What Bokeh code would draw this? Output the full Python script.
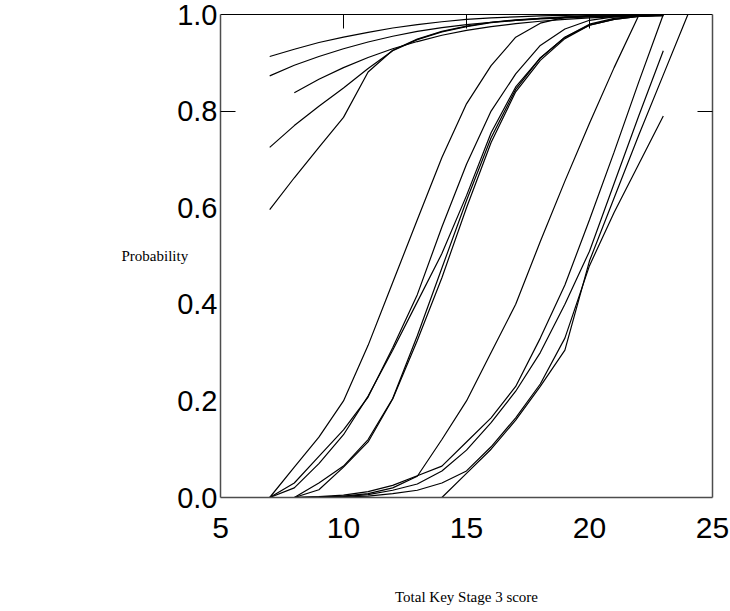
from bokeh.plotting import figure
from bokeh.models import Range1d, LinearAxis, FixedTicker, PrintfTickFormatter
from bokeh.embed import file_html
from bokeh.resources import INLINE

# ---- data ----
x_from7 = [7, 8, 9, 10, 11, 12, 13, 14, 15, 16, 17, 18, 19, 20, 21, 22, 23]
x_from8 = [8, 9, 10, 11, 12, 13, 14, 15, 16, 17, 18, 19, 20, 21, 22, 23]
x_from14 = [14, 15, 16, 17, 18, 19, 20, 21, 22, 23, 24]

a1 = [0.913, 0.928, 0.942, 0.953, 0.963, 0.972, 0.979, 0.985, 0.990, 0.993, 0.995, 0.997, 0.998, 0.999, 0.999, 1.0, 1.0]
a2 = [0.873, 0.895, 0.913, 0.929, 0.943, 0.955, 0.965, 0.973, 0.979, 0.984, 0.988, 0.991, 0.993, 0.995, 0.996, 0.997, 0.998]
a3 = [0.838, 0.866, 0.890, 0.911, 0.929, 0.944, 0.957, 0.967, 0.975, 0.981, 0.986, 0.990, 0.993, 0.995, 0.996, 0.997]
a4 = [0.725, 0.770, 0.810, 0.848, 0.888, 0.925, 0.948, 0.964, 0.975, 0.983, 0.988, 0.992, 0.994, 0.996, 0.997, 0.998, 0.999]
a5 = [0.596, 0.662, 0.725, 0.787, 0.881, 0.926, 0.949, 0.965, 0.976, 0.984, 0.989, 0.992, 0.995, 0.996, 0.997, 0.998, 0.999]

b1 = [0.0, 0.063, 0.125, 0.200, 0.315, 0.445, 0.575, 0.704, 0.815, 0.894, 0.953, 0.982, 0.994, 0.998, 0.999, 1.0, 1.0]
b2 = [0.0, 0.030, 0.085, 0.140, 0.208, 0.310, 0.420, 0.560, 0.690, 0.800, 0.877, 0.936, 0.970, 0.988, 0.995, 0.998, 1.0]
b3 = [0.0, 0.020, 0.070, 0.130, 0.210, 0.305, 0.405, 0.505, 0.625, 0.755, 0.850, 0.910, 0.953, 0.978, 0.990, 0.996, 0.999]
b4 = [0.0, 0.030, 0.065, 0.120, 0.205, 0.335, 0.475, 0.615, 0.745, 0.845, 0.910, 0.953, 0.980, 0.992, 0.997, 1.0]
b5 = [0.0, 0.016, 0.063, 0.115, 0.204, 0.325, 0.455, 0.600, 0.735, 0.840, 0.905, 0.950, 0.978, 0.990, 0.996, 0.999]

c1 = [0.0, 0.001, 0.003, 0.008, 0.020, 0.044, 0.120, 0.200, 0.300, 0.400, 0.530, 0.655, 0.775, 0.890, 0.998, 1.0]
c2 = [0.0, 0.002, 0.005, 0.012, 0.025, 0.045, 0.065, 0.115, 0.165, 0.230, 0.330, 0.440, 0.575, 0.715, 0.860, 1.0]
c3 = [0.0, 0.001, 0.002, 0.006, 0.015, 0.028, 0.055, 0.098, 0.155, 0.220, 0.300, 0.400, 0.510, 0.650, 0.790, 0.925]
c4 = [0.0, 0.050, 0.100, 0.160, 0.230, 0.305, 0.490, 0.620, 0.750, 0.875, 1.0]
c5 = [0.0, 0.0, 0.001, 0.003, 0.008, 0.015, 0.030, 0.055, 0.105, 0.165, 0.235, 0.330, 0.480, 0.590, 0.690, 0.790]

x_ticks = [5, 10, 15, 20, 25]
y_ticks = [0.0, 0.2, 0.4, 0.6, 0.8, 1.0]
top_ticks = [10, 15, 20]
side_ticks = [0.8]

curves = [
    (x_from7, a1), (x_from7, a2), (x_from8, a3), (x_from7, a4), (x_from7, a5),
    (x_from7, b1), (x_from7, b2), (x_from7, b3), (x_from8, b4), (x_from8, b5),
    (x_from8, c1), (x_from8, c2), (x_from8, c3), (x_from14, c4), (x_from8, c5),
]

p = figure(width=730, height=611, output_backend="svg", toolbar_location=None,
           x_range=Range1d(5, 25), y_range=Range1d(0, 1),
           x_axis_location=None, y_axis_location=None,
           min_border_left=220, min_border_right=18, min_border_top=14,
           min_border_bottom=114)
p.xgrid.visible = False
p.ygrid.visible = False
p.outline_line_color = None
p.background_fill_color = "white"

for xs, ys in curves:
    p.line(xs, ys, line_color="black", line_width=1.2)

TICK_FONT = "Liberation Sans"
LABEL_FONT = "Liberation Serif"
FRAME = "#4d4d4d"

left = LinearAxis(ticker=FixedTicker(ticks=y_ticks, minor_ticks=side_ticks),
                  formatter=PrintfTickFormatter(format="%.1f"),
                  axis_label="Probability", axis_label_orientation="horizontal",
                  axis_label_standoff=-14, axis_label_text_baseline="top",
                  axis_label_text_font=LABEL_FONT, axis_label_text_font_style="normal",
                  axis_label_text_font_size="15px", axis_label_text_color="black",
                  major_label_text_font=TICK_FONT, major_label_text_font_size="29px",
                  major_label_text_color="black", major_label_standoff=3,
                  major_tick_in=0, major_tick_out=0,
                  minor_tick_in=15, minor_tick_out=0, minor_tick_line_color="black",
                  axis_line_color=FRAME, axis_line_width=1.5)
p.add_layout(left, "left")

bottom = LinearAxis(ticker=FixedTicker(ticks=x_ticks),
                    axis_label="Total Key Stage 3 score", axis_label_standoff=48,
                    axis_label_text_font=LABEL_FONT, axis_label_text_font_style="normal",
                    axis_label_text_font_size="15px", axis_label_text_color="black",
                    major_label_text_font=TICK_FONT, major_label_text_font_size="30px",
                    major_label_text_color="black", major_label_standoff=20,
                    major_tick_in=0, major_tick_out=0,
                    minor_tick_in=0, minor_tick_out=0,
                    axis_line_color=FRAME, axis_line_width=1.5)
p.add_layout(bottom, "below")

top = LinearAxis(ticker=FixedTicker(ticks=[], minor_ticks=top_ticks),
                 major_tick_in=0, major_tick_out=0,
                 minor_tick_in=14, minor_tick_out=0, minor_tick_line_color="black",
                 major_label_text_font_size="0px", major_label_standoff=0,
                 axis_line_color="black", axis_line_width=1)
p.add_layout(top, "above")

right = LinearAxis(ticker=FixedTicker(ticks=[], minor_ticks=side_ticks),
                   major_tick_in=0, major_tick_out=0,
                   minor_tick_in=15, minor_tick_out=0, minor_tick_line_color="black",
                   major_label_text_font_size="0px", major_label_standoff=0,
                   axis_line_color=FRAME, axis_line_width=1.5)
p.add_layout(right, "right")

open("out.html", "w").write(file_html(p, INLINE))
